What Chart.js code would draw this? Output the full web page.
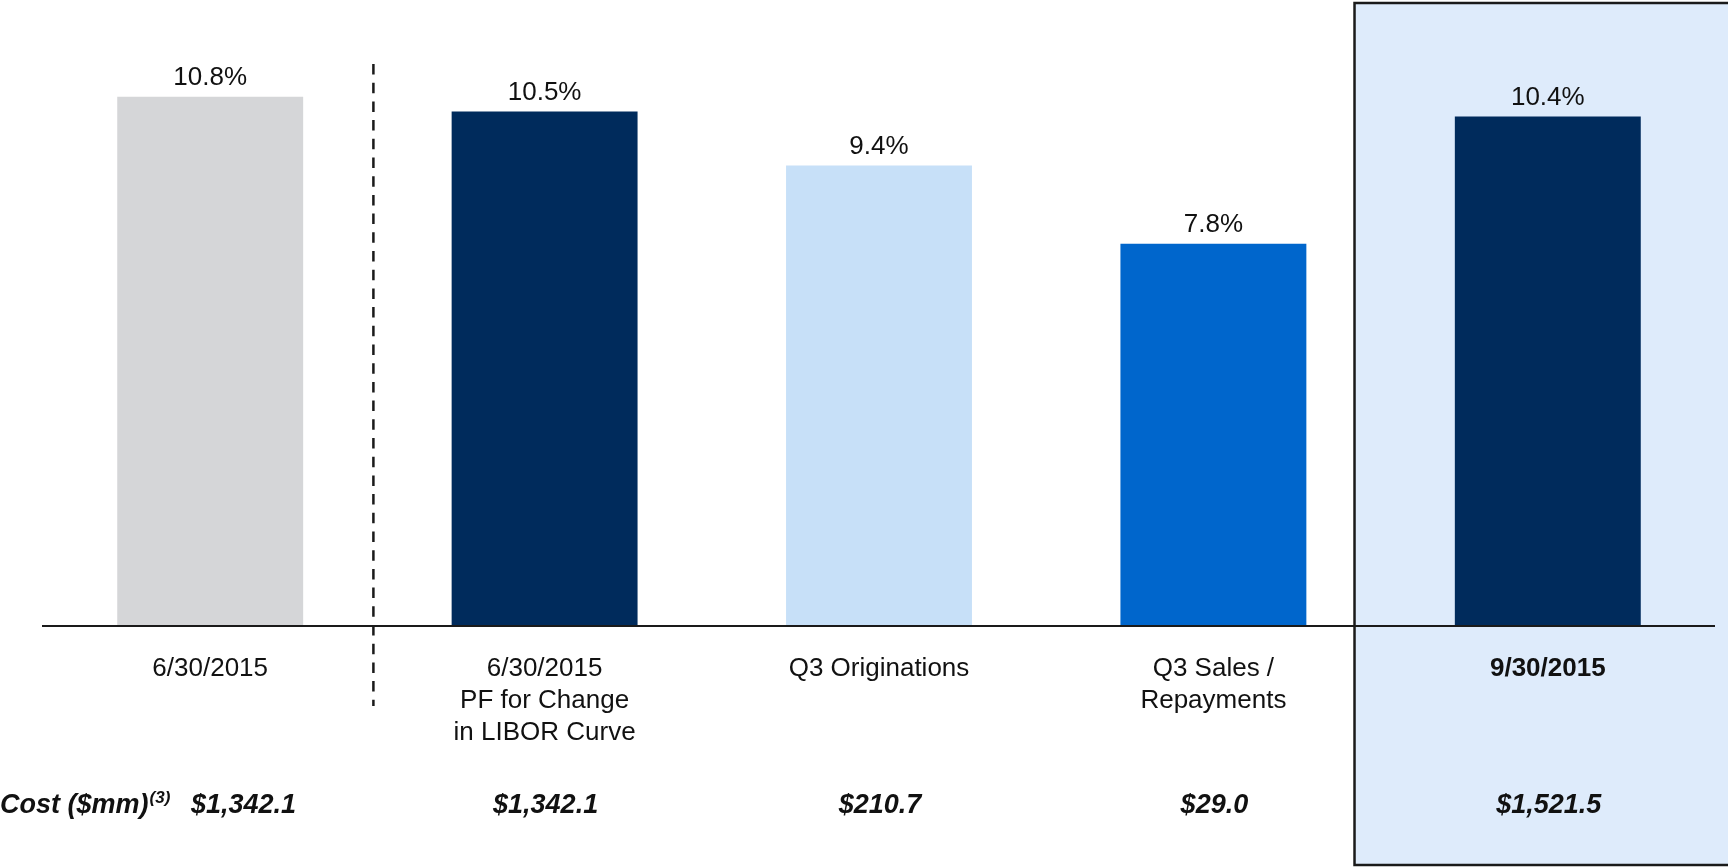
<!DOCTYPE html>
<html>
<head>
<meta charset="utf-8">
<script src="https://cdn.jsdelivr.net/npm/chart.js@4/dist/chart.umd.min.js"></script>
<style>
    html, body { margin: 0; padding: 0; background: #ffffff; }
    #wrap { width: 1728px; height: 867px; position: relative; }
</style>
</head>
<body>
<div id="wrap"><canvas id="mainChart"></canvas></div>
<script>
/* =========================
   DATOS
========================= */
const categories = [
    ["6/30/2015"],
    ["6/30/2015", "PF for Change", "in LIBOR Curve"],
    ["Q3 Originations"],
    ["Q3 Sales /", "Repayments"],
    ["9/30/2015"]
];
const yieldValues = [10.8, 10.5, 9.4, 7.8, 10.4];
const costLabels = ["$1,342.1", "$1,342.1", "$210.7", "$29.0", "$1,521.5"];
const barColors = ["#D5D6D8", "#002B5C", "#C7E0F8", "#0066CC", "#002B5C"];

const FONT = "'Liberation Sans', Arial, sans-serif";

/* =========================
   PLUGIN: CAJA, LINEAS Y TEXTOS
========================= */
const decorPlugin = {
    id: "decor",
    beforeDatasetsDraw(chart) {
        const ctx = chart.ctx;
        const x = chart.scales.x;
        const catW = x.getPixelForValue(1) - x.getPixelForValue(0);

        /* caja resaltada */
        const boxLeft = x.getPixelForValue(4) - 0.578 * catW;
        ctx.save();
        ctx.fillStyle = "#DEEBFB";
        ctx.fillRect(boxLeft, 3, chart.width - boxLeft + 5, chart.height - 5);
        ctx.strokeStyle = "#1a1a1a";
        ctx.lineWidth = 2.5;
        ctx.strokeRect(boxLeft, 3, chart.width - boxLeft + 5, chart.height - 5);
        ctx.restore();
    },
    afterDatasetsDraw(chart) {
        const ctx = chart.ctx;
        const x = chart.scales.x;
        const y = chart.scales.y;
        const area = chart.chartArea;
        const baseY = y.getPixelForValue(0);

        ctx.save();

        /* linea del eje */
        ctx.strokeStyle = "#1a1a1a";
        ctx.lineWidth = 2;
        ctx.beginPath();
        ctx.moveTo(area.left - 1, baseY);
        ctx.lineTo(area.right, baseY);
        ctx.stroke();

        /* linea punteada */
        const dashX = (x.getPixelForValue(0) + x.getPixelForValue(1)) / 2 - 4;
        ctx.lineWidth = 2.5;
        ctx.setLineDash([10.5, 8.2]);
        ctx.beginPath();
        ctx.moveTo(dashX, 64);
        ctx.lineTo(dashX, 706);
        ctx.stroke();
        ctx.setLineDash([]);

        /* valores sobre barras */
        ctx.fillStyle = "#111111";
        ctx.textAlign = "center";
        ctx.textBaseline = "middle";
        ctx.font = "26px " + FONT;
        yieldValues.forEach((v, i) => {
            ctx.fillText(v.toFixed(1) + "%", x.getPixelForValue(i), y.getPixelForValue(v) - 19);
        });

        /* etiquetas de categorias */
        categories.forEach((lines, i) => {
            ctx.font = (i === 4 ? "bold " : "") + "26px " + FONT;
            lines.forEach((line, j) => {
                ctx.fillText(line, x.getPixelForValue(i), 669 + j * 32);
            });
        });

        /* fila de costo */
        const rowY = 806;
        ctx.font = "italic bold 27px " + FONT;
        ctx.textAlign = "left";
        ctx.fillText("Cost ($mm)", 0, rowY);
        const w = ctx.measureText("Cost ($mm)").width;
        ctx.font = "italic bold 17px " + FONT;
        ctx.fillText("(3)", w + 1, rowY - 8);

        ctx.font = "italic bold 27px " + FONT;
        costLabels.forEach((c, i) => {
            if (i === 0) {
                ctx.textAlign = "left";
                ctx.fillText(c, 191, rowY);
            } else {
                ctx.textAlign = "center";
                ctx.fillText(c, x.getPixelForValue(i) + 1, rowY);
            }
        });

        ctx.restore();
    }
};

/* =========================
   GRAFICO
========================= */
const ctx = document.getElementById("mainChart").getContext("2d");

new Chart(ctx, {
    type: "bar",
    data: {
        labels: categories.map(c => c.join(" ")),
        datasets: [
            {
                data: yieldValues,
                backgroundColor: barColors,
                borderWidth: 0,
                categoryPercentage: 1,
                barPercentage: 0.556
            }
        ]
    },
    options: {
        responsive: true,
        maintainAspectRatio: false,
        animation: false,
        layout: {
            padding: { left: 43, right: 13, top: 38, bottom: 241 }
        },
        plugins: {
            legend: { display: false },
            tooltip: { enabled: false }
        },
        scales: {
            x: { display: false },
            y: { display: false, min: 0, max: 12 }
        }
    },
    plugins: [decorPlugin]
});
</script>
</body>
</html>
